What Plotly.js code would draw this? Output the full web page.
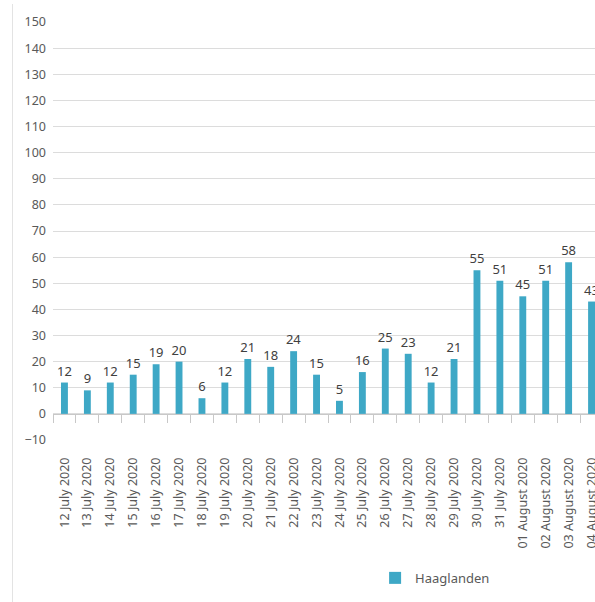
<!DOCTYPE html>
<html>
<head>
<meta charset="utf-8">
<script src="https://cdn.plot.ly/plotly-3.0.1.min.js"></script>
<style>
html,body{margin:0;padding:0;background:#fff;overflow:hidden;width:595px;height:602px;}
#chart{position:absolute;left:0;top:0;}
#frame{position:absolute;left:12px;top:4px;width:1px;height:598px;background:#e3e3e3;}
</style>
</head>
<body>
<div id="chart"></div>
<div id="frame"></div>
<script>
const dates = ["12 July 2020","13 July 2020","14 July 2020","15 July 2020","16 July 2020","17 July 2020",
  "18 July 2020","19 July 2020","20 July 2020","21 July 2020","22 July 2020","23 July 2020",
  "24 July 2020","25 July 2020","26 July 2020","27 July 2020","28 July 2020","29 July 2020",
  "30 July 2020","31 July 2020","01 August 2020","02 August 2020","03 August 2020","04 August 2020"];
const haaglanden = [12,9,12,15,19,20,6,12,21,18,24,15,5,16,25,23,12,21,55,51,45,51,58,43];
const seriesName = "Haaglanden";
const yTicks = [-10,0,10,20,30,40,50,60,70,80,90,100,110,120,130,140,150];

const font = "Noto Sans, Open Sans, sans-serif";
const barColor = "#3ea8c6";

const traces = [
  {
    type: "bar",
    x: dates,
    y: haaglanden,
    name: seriesName,
    marker: {color: barColor},
    width: 0.3,
    text: haaglanden.map(String),
    textposition: "outside",
    constraintext: "none",
    textfont: {family: font, size: 13, color: "#404040"},
    cliponaxis: false,
    xaxis: "x",
    yaxis: "y"
  },
  {
    type: "bar",
    x: dates,
    y: haaglanden.map(() => 0),
    showlegend: false,
    hoverinfo: "skip",
    marker: {color: "rgba(0,0,0,0)"},
    xaxis: "x2",
    yaxis: "y"
  }
];

const layout = {
  width: 620,
  height: 602,
  margin: {l: 53, r: 16.5, t: 22, b: 162},
  paper_bgcolor: "#ffffff",
  plot_bgcolor: "#ffffff",
  font: {family: font, color: "#595959", size: 12},
  uniformtext: {mode: false},
  xaxis: {
    type: "category",
    range: [-0.5, 23.5],
    tickangle: -90,
    showgrid: false,
    showline: false,
    zeroline: false,
    ticks: "",
    ticklabelstandoff: 14,
    tickfont: {family: font, size: 12.5, color: "#595959"}
  },
  xaxis2: {
    type: "category",
    overlaying: "x",
    matches: "x",
    anchor: "free",
    position: 10/160,
    side: "bottom",
    showline: true,
    linecolor: "#c8c8c8",
    linewidth: 1,
    ticks: "outside",
    tickson: "boundaries",
    ticklen: 8,
    tickcolor: "#c8c8c8",
    showticklabels: false,
    showgrid: false
  },
  yaxis: {
    range: [-10, 150],
    tickvals: yTicks,
    showgrid: true,
    gridcolor: "#dcdcdc",
    gridwidth: 1,
    zeroline: false,
    showline: false,
    ticks: "",
    ticklabelstandoff: 6,
    tickfont: {family: font, size: 12.5, color: "#595959"}
  },
  showlegend: true,
  legend: {
    orientation: "h",
    xref: "container",
    yref: "container",
    x: 0.605,
    xanchor: "left",
    y: 0.04,
    yanchor: "middle",
    font: {family: font, size: 13, color: "#595959"},
    itemwidth: 30
  }
};

Plotly.newPlot("chart", traces, layout, {displayModeBar: false, staticPlot: true});
</script>
</body>
</html>
